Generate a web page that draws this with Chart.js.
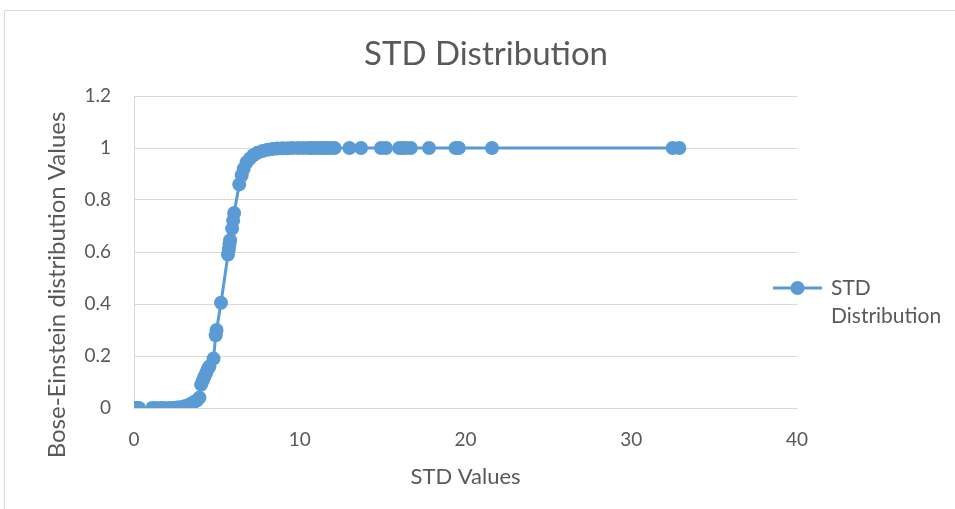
<!DOCTYPE html>
<html>
<head>
<meta charset="utf-8">
<script src="https://cdn.jsdelivr.net/npm/chart.js@4.4.0/dist/chart.umd.min.js"></script>
<style>
  body { margin: 0; background: #fff; }
  canvas { display: block; }
</style>
</head>
<body>
<canvas id="stdChart" width="955" height="509"></canvas>
<script>
// STD values (x) and Bose-Einstein distribution values (y)
var stdValues = [0, 0.05, 0.1, 0.2, 0.3, 1.1, 1.3, 1.6, 1.8, 2.1, 2.3, 2.5, 2.7, 3.0, 3.2, 3.4, 3.6, 3.8, 3.95,
  4.05, 4.15, 4.25, 4.35, 4.45, 4.55, 4.8, 4.93, 4.98, 5.25, 5.67, 5.72, 5.76, 5.8, 5.92, 5.98, 6.04,
  6.35, 6.5, 6.62, 6.8, 7.0, 7.2, 7.45, 7.75, 8.05, 8.35, 8.65, 8.95, 9.25, 9.55, 9.9, 10.2, 10.5,
  10.7, 10.9, 11.1, 11.3, 11.5, 11.7, 11.9, 12.1, 13.0, 13.7, 14.9, 15.2, 16.0, 16.2, 16.4, 16.7,
  17.8, 19.4, 19.6, 21.6, 32.5, 32.9];
var beValues = [0, 0, 0, 0, 0, 0, 0, 0, 0, 0, 0, 0.001, 0.003, 0.006, 0.01, 0.015, 0.022, 0.03, 0.04,
  0.09, 0.105, 0.12, 0.135, 0.15, 0.16, 0.19, 0.28, 0.3, 0.405, 0.59, 0.61, 0.63, 0.645, 0.69, 0.72, 0.75,
  0.86, 0.895, 0.92, 0.945, 0.96, 0.972, 0.982, 0.988, 0.993, 0.996, 0.998, 0.999, 0.999, 1, 1, 1, 1,
  1, 1, 1, 1, 1, 1, 1, 1, 1, 1, 1, 1, 1, 1, 1, 1,
  1, 1, 1, 1, 1, 1];
var xTicks = [0, 10, 20, 30, 40];
var yTicks = [0, 0.2, 0.4, 0.6, 0.8, 1, 1.2];

var seriesName = ['STD', 'Distribution'];
var chartTitle = 'STD Distribution';
var xTitle = 'STD Values';
var yTitle = 'Bose-Einstein distribution Values';

var blue = '#5b9bd5';
var gray = '#d9d9d9';
var textColor = '#595959';
var fontFamily = 'Lato, "Open Sans", sans-serif';

var points = stdValues.map(function (x, i) {
  return { x: x, y: beValues[i] };
});

// frame lines, rotated y title and the two-line legend on the right
var extrasPlugin = {
  id: 'extras',
  beforeDraw: function (chart) {
    var ctx = chart.ctx;
    ctx.save();
    ctx.strokeStyle = gray;
    ctx.lineWidth = 1;
    ctx.beginPath();
    ctx.moveTo(4.5, 509);
    ctx.lineTo(4.5, 10.5);
    ctx.lineTo(955, 10.5);
    ctx.stroke();
    ctx.restore();
  },
  afterDraw: function (chart) {
    var ctx = chart.ctx;
    ctx.save();
    // y axis title
    ctx.fillStyle = textColor;
    ctx.font = '24px ' + fontFamily;
    ctx.textAlign = 'center';
    ctx.textBaseline = 'middle';
    ctx.translate(57, 285);
    ctx.rotate(-Math.PI / 2);
    ctx.fillText(yTitle, 0, 0);
    ctx.restore();

    // legend
    ctx.save();
    ctx.strokeStyle = blue;
    ctx.lineWidth = 3;
    ctx.beginPath();
    ctx.moveTo(773, 288);
    ctx.lineTo(822, 288);
    ctx.stroke();
    ctx.fillStyle = blue;
    ctx.beginPath();
    ctx.arc(797.5, 288, 7, 0, Math.PI * 2);
    ctx.fill();
    ctx.fillStyle = textColor;
    ctx.font = '21px ' + fontFamily;
    ctx.textAlign = 'left';
    ctx.textBaseline = 'middle';
    ctx.fillText(seriesName[0], 831, 288);
    ctx.fillText(seriesName[1], 831, 316);
    ctx.restore();
  }
};

var ctx = document.getElementById('stdChart').getContext('2d');
var stdChart = new Chart(ctx, {
  type: 'scatter',
  data: {
    datasets: [{
      label: seriesName.join(' '),
      data: points,
      showLine: true,
      borderColor: blue,
      backgroundColor: blue,
      borderWidth: 3,
      pointRadius: 7,
      pointBorderWidth: 0,
      pointBackgroundColor: blue
    }]
  },
  options: {
    responsive: false,
    animation: false,
    devicePixelRatio: 1,
    layout: { padding: { left: 17, right: 0, top: 0, bottom: 0 } },
    plugins: {
      legend: { display: false },
      tooltip: { enabled: false },
      title: {
        display: true,
        text: chartTitle,
        color: textColor,
        font: { family: fontFamily, size: 33, weight: 'normal' },
        padding: { top: 35, bottom: 21.4 }
      }
    },
    scales: {
      x: {
        type: 'linear',
        min: 0,
        max: 40,
        afterBuildTicks: function (scale) {
          scale.ticks = xTicks.map(function (v) { return { value: v }; });
        },
        afterFit: function (scale) { scale.height = 101; },
        grid: { display: false, drawTicks: false },
        border: { display: true, color: gray, width: 1 },
        ticks: { color: textColor, padding: 20, font: { family: fontFamily, size: 19 } },
        title: {
          display: true,
          text: xTitle,
          color: textColor,
          font: { family: fontFamily, size: 22 },
          padding: { top: 0, bottom: 19 }
        }
      },
      y: {
        type: 'linear',
        min: 0,
        max: 1.2,
        afterBuildTicks: function (scale) {
          scale.ticks = yTicks.map(function (v) { return { value: v }; });
        },
        afterFit: function (scale) { scale.width = 117; },
        grid: { color: gray, lineWidth: 1, drawTicks: false },
        border: { display: true, color: gray, width: 1 },
        ticks: {
          color: textColor,
          padding: 23,
          font: { family: fontFamily, size: 19 },
          callback: function (value) { return String(Math.round(value * 10) / 10); }
        }
      },
      // empty right-hand box that keeps room for the legend
      legendSpace: {
        type: 'linear',
        position: 'right',
        min: 0,
        max: 1,
        afterFit: function (scale) { scale.width = 158; },
        grid: { display: false, drawTicks: false },
        border: { display: false },
        ticks: { display: false }
      }
    }
  },
  plugins: [extrasPlugin]
});
</script>
</body>
</html>
